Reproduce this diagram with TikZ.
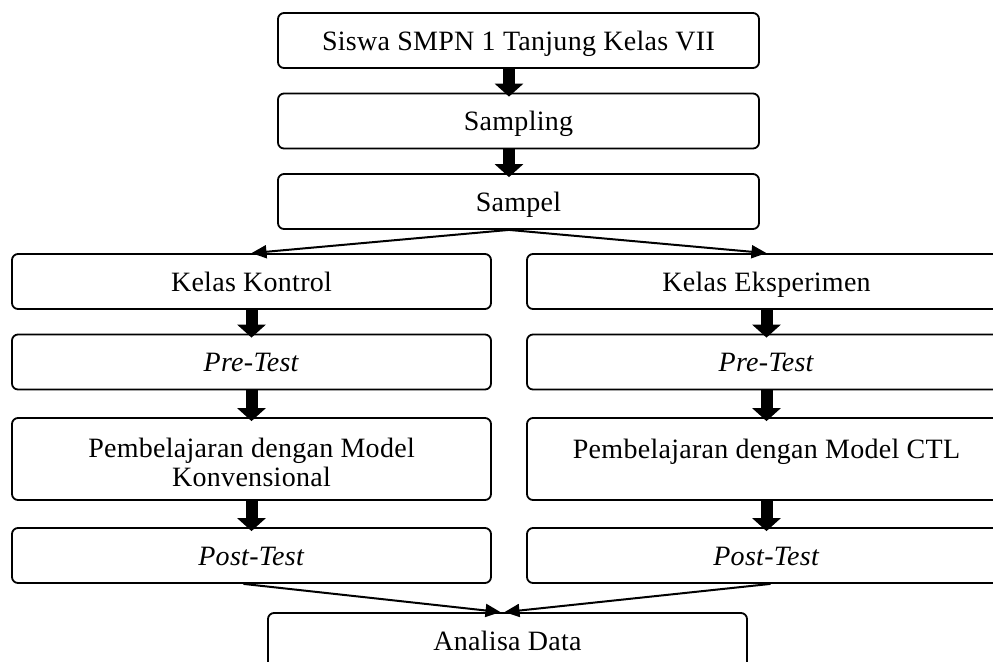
\documentclass[tikz,border=0pt]{standalone}
\usepackage{fontspec}
\setmainfont[LetterSpace=1]{Liberation Serif}
\usetikzlibrary{arrows.meta}

\begin{document}
\begin{tikzpicture}[x=0.5pt,y=-0.5pt]
\tikzstyle{box}=[draw,rounded corners=3pt,line width=0.9pt,inner sep=0pt,minimum width=239.5pt,minimum height=27.5pt,align=center,font=\fontsize{14}{14.5}\selectfont]
\tikzstyle{line}=[box,text height=10pt,text depth=0.5pt]
\tikzstyle{wide}=[line,minimum width=240.5pt]
\tikzstyle{tall}=[box,minimum height=41pt]
\tikzstyle{flow}=[line width=6pt,-{Triangle[width=14pt,length=6.5pt]},shorten >=-2pt]
\tikzstyle{split}=[line width=1pt,-{Triangle[width=6.5pt,length=7.5pt]}]
\useasboundingbox (0,0) rectangle (993,661);
\coordinate (spine) at (509,0);
% main line
\node[wide] (T_0) at (518.5,40.5) {Siswa SMPN 1 Tanjung Kelas VII};
\node[wide] (T_1) at (518.5,121) {Sampling};
\node[wide] (T_2) at (518.5,201.5) {Sampel};
% control class
\node[line] (L_0) at (251.5,281.5) {Kelas Kontrol};
\node[line] (L_1) at (251.5,362) {\textit{Pre-Test}};
\node[tall] (L_2) at (251.5,459) {\rule{0pt}{13.5pt}Pembelajaran dengan Model\\Konvensional};
\node[line] (L_3) at (251.5,555.5) {\textit{Post-Test}};
% experiment class
\node[line] (R_0) at (766.5,281.5) {Kelas Eksperimen};
\node[line] (R_1) at (766.5,362) {\textit{Pre-Test}};
\node[tall] (R_2) at (766.5,459) {\rule{0pt}{13.5pt}Pembelajaran dengan Model CTL\\\mbox{}};
\node[line] (R_3) at (766.5,555.5) {\textit{Post-Test}};
\node[line] (A_0) at (507.5,640.5) {Analisa Data};
\draw[flow] (T_0.south -| spine) -- (T_1.north -| spine);
\draw[flow] (T_1.south -| spine) -- (T_2.north -| spine);
\draw[split] (T_2.south -| spine) -- (L_0.north);
\draw[split] (T_2.south -| spine) -- (R_0.north);
\draw[flow] (L_0) -- (L_1);
\draw[flow] (L_1) -- (L_2);
\draw[flow] (L_2) -- (L_3);
\draw[flow] (R_0) -- (R_1);
\draw[flow] (R_1) -- (R_2);
\draw[flow] (R_2) -- (R_3);
\draw[split] ([xshift=-4pt]L_3.south) -- ([xshift=-3.5pt]A_0.north);
\draw[split] ([xshift=2pt]R_3.south) -- ([xshift=-1.5pt]A_0.north);
\end{tikzpicture}
\end{document}
